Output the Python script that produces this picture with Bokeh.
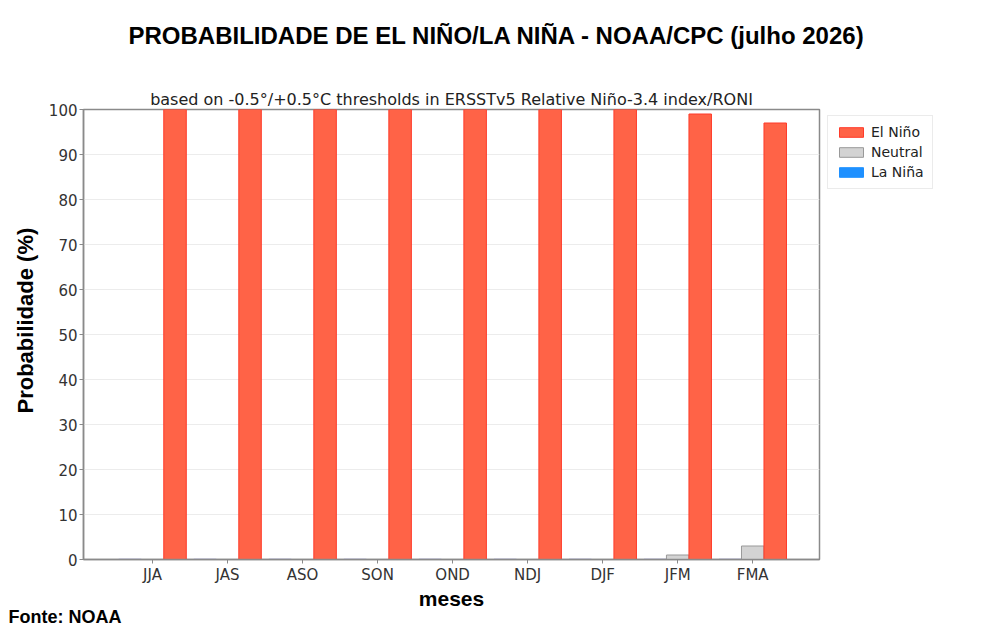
from bokeh.models import ColumnDataSource, Legend, LegendItem, FixedTicker, Range1d, Title
from bokeh.plotting import figure
from bokeh.layouts import row, column
from bokeh.embed import file_html
from bokeh.resources import INLINE

MESES = ["JJA", "JAS", "ASO", "SON", "OND", "NDJ", "DJF", "JFM", "FMA"]
EL_NINO = [100, 100, 100, 100, 100, 100, 100, 99, 97]
NEUTRAL = [0, 0, 0, 0, 0, 0, 0, 1, 3]
LA_NINA = [0, 0, 0, 0, 0, 0, 0, 0, 0]
Y_TICKS = [0, 10, 20, 30, 40, 50, 60, 70, 80, 90, 100]

TITLE = "PROBABILIDADE DE EL NIÑO/LA NIÑA - NOAA/CPC (julho 2026)"
SUBTITLE = "based on -0.5°/+0.5°C thresholds in ERSSTv5 Relative Niño-3.4 index/RONI"
FONTE = "Fonte: NOAA"
X_LABEL = "meses"
Y_LABEL = "Probabilidade (%)"

RED = "#ff6347"
GRAY = "#d3d3d3"
BLUE = "#1e90ff"
RED_LINE = "#ff3b2a"
GRAY_LINE = "#999999"
BLUE_LINE = "#9999dd"
OFF = 0.3
BAR_W = 0.3

idx = list(range(len(MESES)))
source = ColumnDataSource(dict(
    x_nina=[i - OFF for i in idx],
    x_neu=list(idx),
    x_nino=[i + OFF for i in idx],
    nina=LA_NINA,
    neu=NEUTRAL,
    nino=EL_NINO,
))

TOTAL_W, TOTAL_H = 966, 626
HEAD_H = 60
H = TOTAL_H - HEAD_H
FRAME_L, FRAME_R = 83, 819
FRAME_T, FRAME_B = 109 - HEAD_H, 559 - HEAD_H
W1 = FRAME_R + 2
W2 = TOTAL_W - W1

# strip across the top that only carries the main title
head = figure(width=TOTAL_W, height=HEAD_H, output_backend="svg",
              toolbar_location=None, tools="", x_range=Range1d(0, 1),
              y_range=Range1d(0, 1), x_axis_type=None, y_axis_type=None,
              min_border_left=0, min_border_right=0,
              min_border_top=48, min_border_bottom=0)
head.grid.grid_line_color = None
head.outline_line_color = None
head.title.text = TITLE
head.title.align = "left"
head.title.offset = 128
head.title.text_font = "Liberation Sans"
head.title.text_font_style = "bold"
head.title.text_font_size = "24px"
head.title.text_color = "#000000"
head.title.standoff = 0

p = figure(width=W1, height=H, output_backend="svg", toolbar_location=None,
           tools="", x_range=Range1d(-0.92, 8.89), y_range=Range1d(0, 100),
           min_border_left=FRAME_L, min_border_right=W1 - FRAME_R,
           min_border_top=FRAME_T, min_border_bottom=H - FRAME_B)

p.vbar(x='x_nina', top='nina', bottom=0, width=BAR_W, source=source,
       fill_color=BLUE, line_color=BLUE_LINE, line_width=1.5)
p.vbar(x='x_neu', top='neu', bottom=0, width=BAR_W, source=source,
       fill_color=GRAY, line_color=GRAY_LINE, line_width=1)
p.vbar(x='x_nino', top='nino', bottom=0, width=BAR_W, source=source,
       fill_color=RED, line_color=RED_LINE, line_width=1)

p.xaxis.ticker = FixedTicker(ticks=idx)
p.xaxis.major_label_overrides = {i: m for i, m in enumerate(MESES)}
p.yaxis.ticker = FixedTicker(ticks=Y_TICKS)
p.xaxis.minor_tick_line_color = None
p.yaxis.minor_tick_line_color = None

for ax in (p.xaxis, p.yaxis):
    ax.axis_line_color = "#8a8a8a"
    ax.axis_line_width = 1.5
    ax.major_tick_line_color = "#8a8a8a"
    ax.major_tick_out = 4
    ax.major_tick_in = 0
    ax.major_label_text_font = "DejaVu Sans"
    ax.major_label_text_font_size = "15px"
    ax.major_label_text_color = "#333333"
    ax.major_label_standoff = 2

p.xaxis.axis_label = X_LABEL
p.xaxis.axis_label_text_font = "Liberation Sans"
p.xaxis.axis_label_text_font_style = "bold"
p.xaxis.axis_label_text_font_size = "21px"
p.xaxis.axis_label_text_color = "#000000"
p.xaxis.axis_label_standoff = 0

p.xgrid.grid_line_color = None
p.ygrid.grid_line_color = "#ececec"
p.ygrid.grid_line_width = 1
p.outline_line_color = "#8a8a8a"
p.outline_line_width = 1.5

p.title.text = SUBTITLE
p.title.align = "center"
p.title.text_font = "DejaVu Sans"
p.title.text_font_style = "normal"
p.title.text_font_size = "16px"
p.title.text_color = "#222222"
p.title.standoff = 2

# y label as a left title so it can sit slightly above centre like the source
p.add_layout(Title(text=Y_LABEL, align="left", offset=559 - 413,
                   text_font="Liberation Sans", text_font_style="bold",
                   text_font_size="22px", text_color="#000000", standoff=16),
             "left")

p.add_layout(Title(text=FONTE, align="left", offset=8 - FRAME_L,
                   text_font="Liberation Sans", text_font_style="bold",
                   text_font_size="18px", text_color="#000000", standoff=-16),
             "below")

# legend lives in its own narrow figure to the right of the axes
lg = figure(width=W2, height=H, output_backend="svg", toolbar_location=None,
            tools="", x_range=Range1d(0, 1), y_range=Range1d(0, 1),
            x_axis_type=None, y_axis_type=None,
            min_border_left=0, min_border_right=0,
            min_border_top=FRAME_T, min_border_bottom=0)
lg.grid.grid_line_color = None
lg.outline_line_color = None
hidden = ColumnDataSource(dict(x=[5], top=[5]))
l_nino = lg.vbar(x='x', top='top', width=0.1, source=hidden,
                 fill_color=RED, line_color=RED_LINE)
l_neu = lg.vbar(x='x', top='top', width=0.1, source=hidden,
                fill_color=GRAY, line_color=GRAY_LINE)
l_nina = lg.vbar(x='x', top='top', width=0.1, source=hidden,
                 fill_color=BLUE, line_color=BLUE)

legend = Legend(items=[
    LegendItem(label="El Niño", renderers=[l_nino]),
    LegendItem(label="Neutral", renderers=[l_neu]),
    LegendItem(label="La Niña", renderers=[l_nina]),
], location="top_left")
legend.label_text_font = "DejaVu Sans"
legend.label_text_font_size = "14px"
legend.label_text_color = "#222222"
legend.glyph_width = 30
legend.glyph_height = 12
legend.spacing = 4
legend.padding = 8
legend.margin = 6
legend.border_line_color = "#d8d8d8"
legend.background_fill_alpha = 1
lg.add_layout(legend, "center")

layout = column(head, row(p, lg))
open("out.html", "w").write(file_html(layout, INLINE))
